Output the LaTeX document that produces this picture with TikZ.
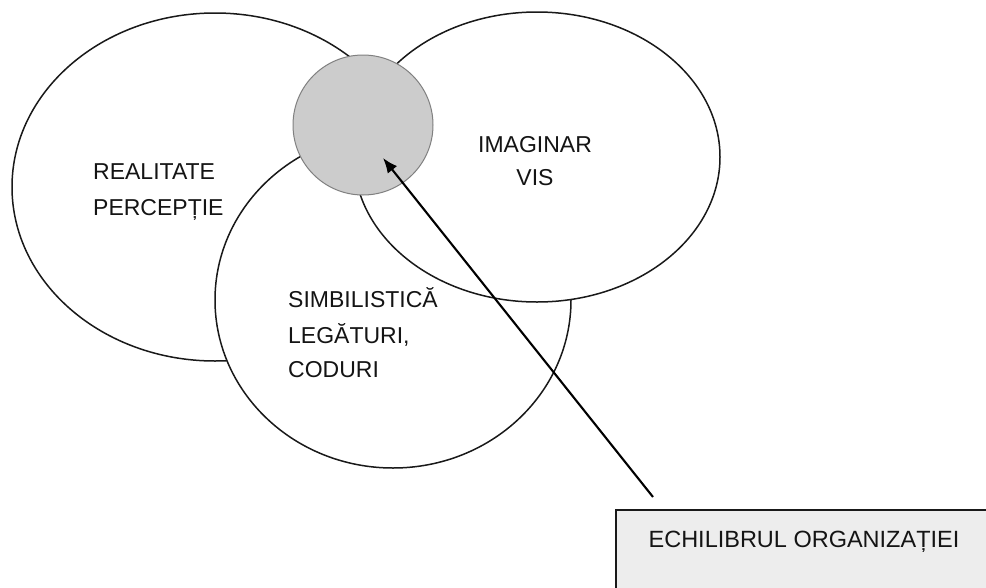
\documentclass[tikz,border=0pt]{standalone}
\usepackage{fontspec}
\setmainfont{Liberation Sans}
\usetikzlibrary{shapes.geometric,arrows.meta}
\begin{document}
\begin{tikzpicture}[x=1pt,y=-1pt,
  setshape/.style={ellipse,draw=black!90,line width=1.5pt,fill=white,inner sep=0pt},
  corecircle/.style={circle,draw=black!50,line width=1pt,fill=black!20,inner sep=0pt,minimum size=140pt},
  lbl/.style={font=\fontsize{23}{35}\selectfont,text=black!92,inner sep=0pt},
  goalbox/.style={rectangle,draw=black!90,line width=1.8pt,fill=black!7,inner sep=0pt},
  pointer/.style={-{Latex[length=15pt,width=12pt]},line width=2.1pt,black}]
\useasboundingbox (0,0) rectangle (986,587);
\clip (0,0) rectangle (986,587);

% three overlapping sets, drawn back to front
\node[setshape,minimum width=406pt,minimum height=348pt] (real) at (215,187) {};
\node[setshape,minimum width=356pt,minimum height=336pt] (simb) at (393,300) {};
\node[setshape,minimum width=366pt,minimum height=290pt] (imag) at (537,157) {};
\node[corecircle] (core) at (363,125) {};

% labels of the sets
\node[lbl,anchor=base west] (real1) at (93,179) {REALITATE};
\node[lbl,anchor=base west] (real2) at (93,215) {PERCEPȚIE};
\node[lbl,anchor=base] (imag1) at (535,152) {IMAGINAR};
\node[lbl,anchor=base] (imag2) at (535,185) {VIS};
\node[lbl,anchor=base west] (simb1) at (288,307) {SIMBILISTICĂ};
\node[lbl,anchor=base west] (simb2) at (288,343) {LEGĂTURI,};
\node[lbl,anchor=base west] (simb3) at (288,377) {CODURI};

% goal box, running off the lower right corner
\node[goalbox,anchor=north west,minimum width=400pt,minimum height=100pt] (box) at (615,509) {};
\node[lbl,font=\fontsize{23.5}{30}\selectfont,anchor=base] (boxtxt) at (804,547) {ECHILIBRUL ORGANIZAȚIEI};

% arrow from the box towards the shared core
\coordinate (tail) at (653,497);
\coordinate (tip) at (383,158);
\draw[pointer] (tail) -- (tip);
\end{tikzpicture}
\end{document}
